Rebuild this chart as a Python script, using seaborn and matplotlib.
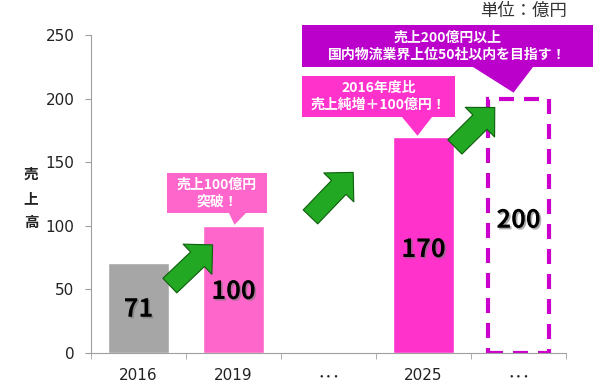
import numpy as np
import pandas as pd
import seaborn as sns
import matplotlib.pyplot as plt
from matplotlib.patches import Polygon, FancyArrowPatch
from matplotlib import patheffects as pe

# data
categories = ["2016", "2019", "gap", "2025", "target"]
tick_labels = ["2016", "2019", "･･･", "2025", "･･･"]
sales = [71, 100, np.nan, 170, 200]
value_labels = ["71", "100", "", "170", "200"]
bar_colors = ["#a6a6a6", "#ff66cc", "#ffffff", "#ff33cc", "#ffffff"]

unit_text = "単位：億円"
ylabel_text = "売\n上\n高"
callout_texts = [
    "売上100億円\n突破！",
    "2016年度比\n売上純増＋100億円！",
    "売上200億円以上\n国内物流業界上位50社以内を目指す！",
]

W, H = 600, 387
sns.set_style("white")
plt.rcParams["font.family"] = ["DejaVu Sans", "Noto Sans CJK JP"]
JP = ["Noto Sans CJK JP", "DejaVu Sans"]

fig = plt.figure(figsize=(W / 100, H / 100), dpi=100)
ax = fig.add_axes([91 / W, 1 - 353 / H, (566 - 91) / W, (353 - 35) / H])

df = pd.DataFrame({"category": categories, "sales": sales})
sns.barplot(data=df, x="category", y="sales", hue="category", order=categories,
            palette=dict(zip(categories, bar_colors)), width=0.65, saturation=1,
            legend=False, ax=ax)

# target bar: dashed outline only
for p in ax.patches:
    idx = int(round(p.get_x() + p.get_width() / 2))
    if categories[idx] == "target":
        p.set_facecolor("none")
        p.set_edgecolor("#cc00cc")
        p.set_linewidth(3)
        p.set_linestyle((0, (3.6, 2.4)))

ax.set_xlim(-0.5, len(categories) - 0.5)
ax.set_ylim(0, 250)
ax.set_yticks([0, 50, 100, 150, 200, 250])
ax.set_xticks(range(len(categories)))
ax.set_xticklabels(tick_labels)
for lab, txt in zip(ax.get_xticklabels(), tick_labels):
    if txt.startswith("･"):
        lab.set_family(JP)
        lab.set_fontsize(12)
ax.set_xticks(np.arange(-0.5, len(categories)), minor=True)
ax.set_xlabel("")
ax.set_ylabel("")
ax.tick_params(axis="y", left=True, length=4, color="#a0a0a0", labelsize=11,
               labelcolor="#222222", pad=8)
ax.tick_params(axis="x", which="major", length=0, labelsize=11,
               labelcolor="#222222", pad=11)
ax.tick_params(axis="x", which="minor", bottom=True, length=4, color="#a0a0a0")
for s in ["top", "right"]:
    ax.spines[s].set_visible(False)
for s in ["left", "bottom"]:
    ax.spines[s].set_color("#a0a0a0")

# value labels inside bars
label_y = [34, 48, 0, 81, 104]
shadow = [pe.SimplePatchShadow(offset=(1.2, -1.2), shadow_rgbFace="#777777", alpha=0.6),
          pe.Normal()]
for i, (txt, yv) in enumerate(zip(value_labels, label_y)):
    if txt:
        ax.text(i, yv, txt, ha="center", va="center", fontsize=18,
                fontweight="bold", family=JP, color="black", path_effects=shadow)

# green growth arrows
arrows = [((0.33, 53), (0.78, 85)), ((1.81, 107), (2.26, 142)), ((3.33, 162), (3.75, 193))]
for a, b in arrows:
    ax.add_patch(FancyArrowPatch(a, b, arrowstyle="simple,head_width=3.0,head_length=1.5,tail_width=1.45",
                                 mutation_scale=10, shrinkA=0, shrinkB=0,
                                 facecolor="#22a822", edgecolor="#0d5e0d", lw=0.8,
                                 zorder=5, clip_on=False))


def to_fig(x, y):
    return (x / W, 1 - y / H)


def tip_px(i, v):
    dx, dy = ax.transData.transform((i, v))
    return dx, H - dy


def callout(box, base, tip, color, text, fs):
    x0, y0, x1, y1 = box
    verts = [(x0, y0), (x1, y0), (x1, y1), (base[1], y1), tip, (base[0], y1), (x0, y1)]
    fig.add_artist(Polygon([to_fig(*v) for v in verts], closed=True,
                           transform=fig.transFigure, facecolor=color,
                           edgecolor="none", zorder=6))
    fig.text(*to_fig((x0 + x1) / 2, (y0 + y1) / 2), text, ha="center", va="center",
             color="white", fontsize=fs, fontweight="bold", family=JP,
             linespacing=1.25, zorder=7)


t1 = tip_px(1, sales[1])
callout((167, 173, 267, 213), (229, 246), (t1[0] + 1, t1[1] - 1), "#ff66cc", callout_texts[0], 10)
t2 = tip_px(3, sales[3])
callout((302, 76, 455, 117), (402, 432), (t2[0] - 6, t2[1] - 1), "#ff33cc", callout_texts[1], 10)
t3 = tip_px(4, sales[4])
callout((302, 25, 593, 67), (473, 533), (t3[0] - 5, t3[1] - 6), "#bb00cc", callout_texts[2], 10)

fig.text(*to_fig(523, 11), unit_text, ha="center", va="center", fontsize=12.5,
         family=JP, color="#333333")
fig.text(*to_fig(31, 198), ylabel_text, ha="center", va="center", fontsize=10.5,
         fontweight="bold", family=JP, linespacing=1.6, color="#222222")

fig.savefig("out.png", dpi=100)
